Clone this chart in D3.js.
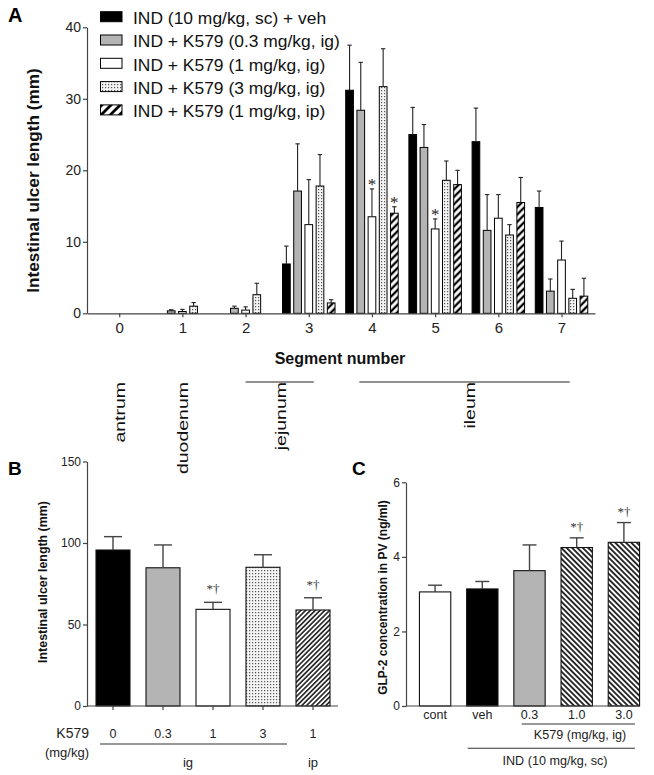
<!DOCTYPE html>
<html><head><meta charset="utf-8">
<script src="https://cdn.jsdelivr.net/npm/d3@7"></script>
<style>body{margin:0;background:#fff}svg{display:block}</style>
</head><body><svg id="c" width="654" height="775"></svg>
<script>
// ---------------- DATA ----------------
// Panel A: intestinal ulcer length by segment (mean and SEM, mm)
const segments = [0, 1, 2, 3, 4, 5, 6, 7];
const seriesNamesA = ["IND (10 mg/kg, sc) + veh", "IND + K579 (0.3 mg/kg, ig)", "IND + K579 (1 mg/kg, ig)", "IND + K579 (3 mg/kg, ig)", "IND + K579 (1 mg/kg, ip)"];
const meanVeh   = [0, 0,    0,    6.9,  31.2, 25.0, 24.0, 14.8];
const semVeh    = [0, 0,    0,    2.5,  6.3,  3.8,  4.7,  2.3];
const meanK03ig = [0, 0.35, 0.7,  17.1, 28.4, 23.2, 11.6, 3.1];
const semK03ig  = [0, 0.15, 0.3,  6.6,  6.7,  3.2,  5.0,  1.7];
const meanK1ig  = [0, 0.25, 0.45, 12.4, 13.5, 11.8, 13.3, 7.45];
const semK1ig   = [0, 0.3,  0.45, 6.3,  3.9,  1.4,  3.3,  2.65];
const meanK3ig  = [0, 1.0,  2.6,  17.8, 31.7, 18.6, 10.95, 2.1];
const semK3ig   = [0, 0.5,  1.6,  4.4,  5.3,  2.7,  1.45, 1.25];
const meanK1ip  = [0, 0,    0,    1.45, 14.0, 18.0, 15.5, 2.4];
const semK1ip   = [0, 0,    0,    0.45, 0.9,  2.0,  3.5,  2.5];
const sigK1ig   = ["", "", "", "", "*", "*", "", ""];
const sigK1ip   = ["", "", "", "", "*", "", "", ""];
const yTicksA = [0, 10, 20, 30, 40];
const regionNames = ["antrum", "duodenum", "jejunum", "ileum"];
const regionAt    = [0, 1, 2.55, 5.55];
const regionFrom  = [null, null, 2.0, 3.8];
const regionTo    = [null, null, 3.08, 7.13];

// Panel B: total intestinal ulcer length (mm)
const doseB  = ["0", "0.3", "1", "3", "1"];
const meanB  = [95.7, 84.8, 59.3, 85.1, 58.9];
const semB   = [8.2, 14.0, 4.3, 7.7, 7.5];
const sigB   = ["", "", "*\u2020", "", "*\u2020"];
const yTicksB = [0, 50, 100, 150];

// Panel C: GLP-2 concentration in PV (ng/ml)
const groupC = ["cont", "veh", "0.3", "1.0", "3.0"];
const meanC  = [3.06, 3.14, 3.63, 4.25, 4.39];
const semC   = [0.18, 0.20, 0.69, 0.26, 0.53];
const sigC   = ["", "", "", "*\u2020", "*\u2020"];
const yTicksC = [0, 2, 4, 6];

// ---------------- SETUP ----------------
const FONT = "'Liberation Sans', Arial, Helvetica, sans-serif";
const SERIF = "'Liberation Serif', 'Times New Roman', serif";
const svg = d3.select("#c").style("font-family", FONT);
svg.append("rect").attr("width", 654).attr("height", 775).attr("fill", "#fff");
const defs = svg.append("defs");

function hatch(id, period, sw, angle) {
  const p = defs.append("pattern").attr("id", id).attr("patternUnits", "userSpaceOnUse")
    .attr("width", period).attr("height", period).attr("patternTransform", `rotate(${angle})`);
  p.append("rect").attr("width", period).attr("height", period).attr("fill", "#fff");
  p.append("line").attr("x1", period / 2).attr("x2", period / 2).attr("y1", -1).attr("y2", period + 1)
    .attr("stroke", "#000").attr("stroke-width", sw);
}
function dots(id) {
  const p = defs.append("pattern").attr("id", id).attr("patternUnits", "userSpaceOnUse")
    .attr("width", 3).attr("height", 3);
  p.append("rect").attr("width", 3).attr("height", 3).attr("fill", "#f4f4f4");
  p.append("rect").attr("x", 0).attr("y", 0).attr("width", 1.2).attr("height", 1.2).attr("fill", "#555");
}
hatch("hatchA", 5.2, 2.3, 45);
hatch("hatchLeg", 6.5, 2.8, 45);
hatch("hatchB", 3.4, 1.4, 45);
hatch("hatchC", 3.8, 1.6, -45);
dots("dots");

const AXIS = "#444";
function styleAxis(g, fs) {
  g.select(".domain").attr("stroke", AXIS).attr("stroke-width", 1.2);
  g.selectAll(".tick line").attr("stroke", AXIS).attr("stroke-width", 1.2);
  g.selectAll(".tick text").attr("fill", "#222").style("font-size", fs + "px").style("font-family", FONT);
}

// ---------------- PANEL A ----------------
const seriesA = [
  { name: seriesNamesA[0], mean: meanVeh,   sem: semVeh,   fill: "#000",       legFill: "#000" },
  { name: seriesNamesA[1], mean: meanK03ig, sem: semK03ig, fill: "#b4b4b4",    legFill: "#b4b4b4" },
  { name: seriesNamesA[2], mean: meanK1ig,  sem: semK1ig,  fill: "#fff",       legFill: "#fff", sig: sigK1ig },
  { name: seriesNamesA[3], mean: meanK3ig,  sem: semK3ig,  fill: "url(#dots)", legFill: "url(#dots)" },
  { name: seriesNamesA[4], mean: meanK1ip,  sem: semK1ip,  fill: "url(#hatchA)", legFill: "url(#hatchLeg)", sig: sigK1ip }
];
const xA = d3.scaleLinear().domain([-0.51, 7.53]).range([87, 595]);
const yA = d3.scaleLinear().domain([0, 40]).range([313.3, 27.3]);
const offA = d3.scaleLinear().domain([0, seriesA.length - 1]).range([-22.4, 22.4]);
const bwA = 7.7;
const gA = svg.append("g");

seriesA.forEach((s, i) => {
  const g = gA.append("g");
  const data = segments.map((seg, j) => ({ seg, m: s.mean[j], e: s.sem[j], sig: s.sig ? s.sig[j] : "" }))
    .filter(d => d.m > 0);
  g.selectAll("rect").data(data).join("rect")
    .attr("x", d => xA(d.seg) + offA(i) - bwA / 2).attr("width", bwA)
    .attr("y", d => yA(d.m)).attr("height", d => yA(0) - yA(d.m))
    .attr("fill", s.fill).attr("stroke", "#000").attr("stroke-width", 1);
  const eb = data.filter(d => d.e > 0);
  g.selectAll("line.v").data(eb).join("line").attr("class", "v")
    .attr("x1", d => xA(d.seg) + offA(i)).attr("x2", d => xA(d.seg) + offA(i))
    .attr("y1", d => yA(d.m)).attr("y2", d => yA(d.m + d.e)).attr("stroke", "#222").attr("stroke-width", 1.1);
  g.selectAll("line.c").data(eb).join("line").attr("class", "c")
    .attr("x1", d => xA(d.seg) + offA(i) - 2.2).attr("x2", d => xA(d.seg) + offA(i) + 2.2)
    .attr("y1", d => yA(d.m + d.e)).attr("y2", d => yA(d.m + d.e)).attr("stroke", "#222").attr("stroke-width", 1.1);
  g.selectAll("text.sig").data(data.filter(d => d.sig)).join("text").attr("class", "sig")
    .attr("x", d => xA(d.seg) + offA(i)).attr("y", d => yA(d.m + d.e) + 1.5)
    .attr("text-anchor", "middle").style("font-family", SERIF).style("font-size", "17px").attr("fill", "#222").text(d => d.sig);
});

const axAx = gA.append("g").attr("transform", `translate(0,${yA(0)})`)
  .call(d3.axisBottom(xA).tickValues(segments).tickSize(4).tickSizeOuter(0).tickPadding(5).tickFormat(d3.format("d")));
styleAxis(axAx, 15);
const axAy = gA.append("g").attr("transform", `translate(${xA.range()[0]},0)`)
  .call(d3.axisLeft(yA).tickValues(yTicksA).tickSize(4).tickSizeOuter(0).tickPadding(2));
styleAxis(axAy, 14);

gA.append("text").attr("transform", `translate(38.5,180.5) rotate(-90)`)
  .attr("text-anchor", "middle").style("font-size", "17.2px").style("font-weight", "bold").attr("fill", "#111")
  .text("Intestinal ulcer length (mm)");
gA.append("text").attr("x", 340).attr("y", 363.5).attr("text-anchor", "middle")
  .style("font-size", "16px").style("font-weight", "bold").attr("fill", "#111").text("Segment number");

// region labels
regionNames.forEach((nm, k) => {
  gA.append("text").attr("transform", `translate(${xA(regionAt[k])},382) rotate(-90) scale(1.3,1)`)
    .attr("text-anchor", "end").attr("dy", "0.36em").style("font-size", "15px").attr("fill", "#111").text(nm);
  if (regionFrom[k] !== null) {
    gA.append("line").attr("x1", xA(regionFrom[k])).attr("x2", xA(regionTo[k]))
      .attr("y1", 382).attr("y2", 382).attr("stroke", "#222").attr("stroke-width", 1.2);
  }
});

// legend
const leg = gA.append("g");
seriesA.forEach((s, i) => {
  const y0 = 11.7 + i * 23.3;
  leg.append("rect").attr("x", 100.5).attr("y", y0).attr("width", 21.5).attr("height", 10)
    .attr("fill", s.legFill).attr("stroke", "#000").attr("stroke-width", 1);
  leg.append("text").attr("transform", `translate(133,${y0 + 12.3}) scale(1.09,1)`)
    .style("font-size", "16px").attr("fill", "#111").text(s.name);
});
svg.append("text").attr("x", 8).attr("y", 22).style("font-size", "20px").style("font-weight", "bold").text("A");

// ---------------- PANEL B ----------------
const fillB = ["#000", "#b4b4b4", "#fff", "url(#dots)", "url(#hatchB)"];
const idxB = d3.range(doseB.length);
const xB = d3.scaleBand().domain(idxB).range([88, 338]).paddingInner(0.32).paddingOuter(0.16);
const yB = d3.scaleLinear().domain([0, 150]).range([706, 461.5]);
const gB = svg.append("g");
gB.selectAll("rect").data(idxB).join("rect")
  .attr("x", i => xB(i)).attr("width", xB.bandwidth())
  .attr("y", i => yB(meanB[i])).attr("height", i => yB(0) - yB(meanB[i]))
  .attr("fill", i => fillB[i]).attr("stroke", "#111").attr("stroke-width", 1.1);
gB.selectAll("line.v").data(idxB).join("line").attr("class", "v")
  .attr("x1", i => xB(i) + xB.bandwidth() / 2).attr("x2", i => xB(i) + xB.bandwidth() / 2)
  .attr("y1", i => yB(meanB[i])).attr("y2", i => yB(meanB[i] + semB[i])).attr("stroke", "#444").attr("stroke-width", 1.4);
gB.selectAll("line.c").data(idxB).join("line").attr("class", "c")
  .attr("x1", i => xB(i) + xB.bandwidth() / 2 - 9).attr("x2", i => xB(i) + xB.bandwidth() / 2 + 9)
  .attr("y1", i => yB(meanB[i] + semB[i])).attr("y2", i => yB(meanB[i] + semB[i])).attr("stroke", "#444").attr("stroke-width", 1.4);
gB.selectAll("text.sig").data(idxB.filter(i => sigB[i])).join("text").attr("class", "sig")
  .attr("x", i => xB(i) + xB.bandwidth() / 2).attr("y", i => yB(meanB[i] + semB[i]) - 9)
  .attr("text-anchor", "middle").style("font-family", SERIF).style("font-size", "13px").attr("fill", "#333").text(i => sigB[i]);
// axes
gB.append("line").attr("x1", 87).attr("x2", 338).attr("y1", yB(0)).attr("y2", yB(0)).attr("stroke", AXIS).attr("stroke-width", 1.2);
gB.selectAll("line.t").data(idxB).join("line").attr("class", "t")
  .attr("x1", i => xB(i) + xB.bandwidth() / 2).attr("x2", i => xB(i) + xB.bandwidth() / 2)
  .attr("y1", yB(0)).attr("y2", yB(0) + 4).attr("stroke", AXIS).attr("stroke-width", 1.2);
const axBy = gB.append("g").attr("transform", "translate(87,0)")
  .call(d3.axisLeft(yB).tickValues(yTicksB).tickSize(4).tickSizeOuter(0).tickPadding(2).tickFormat(d3.format("d")));
styleAxis(axBy, 12);
gB.append("text").attr("transform", `translate(47,582) rotate(-90)`).attr("text-anchor", "middle")
  .style("font-size", "12.4px").style("font-weight", "bold").attr("fill", "#111").text("Intestinal ulcer length (mm)");
gB.append("text").attr("x", 89).attr("y", 738).attr("text-anchor", "end").style("font-size", "14px").attr("fill", "#222").text("K579");
gB.append("text").attr("x", 89).attr("y", 757).attr("text-anchor", "end").style("font-size", "13px").attr("fill", "#222").text("(mg/kg)");
gB.selectAll("text.dose").data(idxB).join("text").attr("class", "dose")
  .attr("x", i => xB(i) + xB.bandwidth() / 2).attr("y", 738).attr("text-anchor", "middle")
  .style("font-size", "12.5px").attr("fill", "#222").text(i => doseB[i]);
gB.append("line").attr("x1", 100).attr("x2", 287).attr("y1", 744).attr("y2", 744).attr("stroke", "#333").attr("stroke-width", 1.1);
gB.append("text").attr("x", 188).attr("y", 767).attr("text-anchor", "middle").style("font-size", "13px").attr("fill", "#222").text("ig");
gB.append("text").attr("x", xB(4) + xB.bandwidth() / 2).attr("y", 767).attr("text-anchor", "middle").style("font-size", "13px").attr("fill", "#222").text("ip");
svg.append("text").attr("x", 8).attr("y", 475).style("font-size", "19px").style("font-weight", "bold").text("B");

// ---------------- PANEL C ----------------
const fillC = ["#fff", "#000", "#b4b4b4", "url(#hatchC)", "url(#hatchC)"];
const idxC = d3.range(groupC.length);
const xC = d3.scaleBand().domain(idxC).range([411.5, 647.5]).paddingInner(0.336).paddingOuter(0.168);
const yC = d3.scaleLinear().domain([0, 6]).range([706, 482.3]);
const gC = svg.append("g");
gC.selectAll("rect").data(idxC).join("rect")
  .attr("x", i => xC(i)).attr("width", xC.bandwidth())
  .attr("y", i => yC(meanC[i])).attr("height", i => yC(0) - yC(meanC[i]))
  .attr("fill", i => fillC[i]).attr("stroke", "#111").attr("stroke-width", 1.1);
gC.selectAll("line.v").data(idxC).join("line").attr("class", "v")
  .attr("x1", i => xC(i) + xC.bandwidth() / 2).attr("x2", i => xC(i) + xC.bandwidth() / 2)
  .attr("y1", i => yC(meanC[i])).attr("y2", i => yC(meanC[i] + semC[i])).attr("stroke", "#444").attr("stroke-width", 1.4);
gC.selectAll("line.c").data(idxC).join("line").attr("class", "c")
  .attr("x1", i => xC(i) + xC.bandwidth() / 2 - 7).attr("x2", i => xC(i) + xC.bandwidth() / 2 + 7)
  .attr("y1", i => yC(meanC[i] + semC[i])).attr("y2", i => yC(meanC[i] + semC[i])).attr("stroke", "#444").attr("stroke-width", 1.4);
gC.selectAll("text.sig").data(idxC.filter(i => sigC[i])).join("text").attr("class", "sig")
  .attr("x", i => xC(i) + xC.bandwidth() / 2).attr("y", i => yC(meanC[i] + semC[i]) - 6.5)
  .attr("text-anchor", "middle").style("font-family", SERIF).style("font-size", "13px").attr("fill", "#333").text(i => sigC[i]);
gC.append("line").attr("x1", 406).attr("x2", 640).attr("y1", yC(0)).attr("y2", yC(0)).attr("stroke", AXIS).attr("stroke-width", 1.2);
const axCy = gC.append("g").attr("transform", "translate(406,0)")
  .call(d3.axisLeft(yC).tickValues(yTicksC).tickSize(4).tickSizeOuter(0).tickPadding(2).tickFormat(d3.format("d")));
styleAxis(axCy, 12);
gC.append("text").attr("transform", `translate(387,597.5) rotate(-90)`).attr("text-anchor", "middle")
  .style("font-size", "12px").style("font-weight", "bold").attr("fill", "#111").text("GLP-2 concentration in PV (ng/ml)");
gC.selectAll("text.grp").data(idxC).join("text").attr("class", "grp")
  .attr("x", i => xC(i) + xC.bandwidth() / 2).attr("y", 719).attr("text-anchor", "middle")
  .style("font-size", "12.5px").attr("fill", "#222").text(i => groupC[i]);
gC.append("line").attr("x1", 521.7).attr("x2", 635).attr("y1", 724).attr("y2", 724).attr("stroke", "#333").attr("stroke-width", 1.1);
gC.append("text").attr("x", 580).attr("y", 739).attr("text-anchor", "middle").style("font-size", "12.6px").attr("fill", "#222").text("K579 (mg/kg, ig)");
gC.append("line").attr("x1", 467.7).attr("x2", 635).attr("y1", 748.3).attr("y2", 748.3).attr("stroke", "#333").attr("stroke-width", 1.1);
gC.append("text").attr("x", 555).attr("y", 765).attr("text-anchor", "middle").style("font-size", "12.6px").attr("fill", "#222").text("IND (10 mg/kg, sc)");
svg.append("text").attr("x", 352).attr("y", 475).style("font-size", "19px").style("font-weight", "bold").text("C");
</script>
</body></html>
